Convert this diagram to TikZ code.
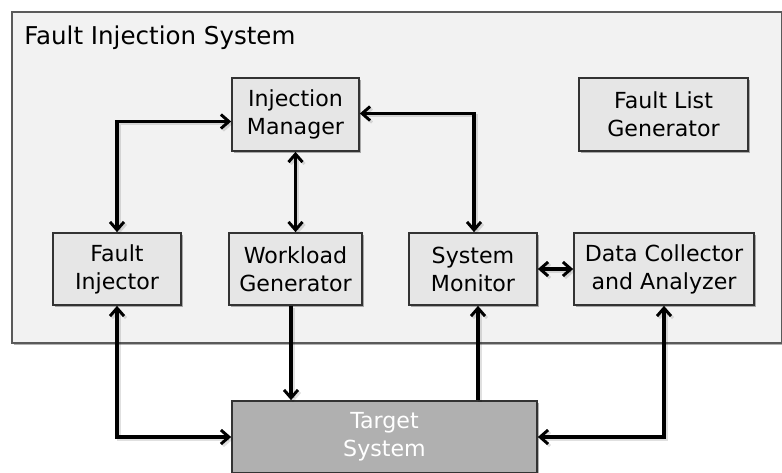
\documentclass[tikz,border=0pt]{standalone}
\usepackage{fontspec}
\setmainfont{DejaVu Sans}
\usetikzlibrary{arrows.meta,calc,shadows}
\definecolor{outerfill}{HTML}{F2F2F2}
\definecolor{outerline}{HTML}{5A5A5A}
\definecolor{boxfill}{HTML}{E6E6E6}
\definecolor{boxline}{HTML}{333333}
\definecolor{targetfill}{HTML}{B0B0B0}
\begin{document}
\begin{tikzpicture}[x=0.75pt,y=-0.75pt,
  shade/.style={drop shadow={shadow xshift=1.8pt,shadow yshift=-1.8pt,opacity=.3,fill=black}},
  blockbox/.style={draw=boxline,line width=1.3pt,fill=boxfill,shade,align=center,
    inner sep=0pt,font=\fontsize{16.6}{21}\selectfont,text=black},
  conn/.style={line width=2.4pt,black,
    preaction={draw,line width=2.4pt,black,opacity=.12,transform canvas={shift={(1.5pt,-1.5pt)}}}},
  tip/.style={arrows={-Straight Barb[length=6pt,width=10.5pt,line width=2.2pt]}},
  both/.style={arrows={Straight Barb[length=6pt,width=10.5pt,line width=2.2pt]-Straight Barb[length=6pt,width=10.5pt,line width=2.2pt]}}]
\useasboundingbox (0,0) rectangle (782,472);
% outer system box
\node[draw=outerline,line width=1.3pt,fill=outerfill,shade,minimum width=770*0.75pt,minimum height=331*0.75pt,anchor=north west,inner sep=0pt] (sys) at (11,11) {};
\node[anchor=base west,inner sep=0pt,font=\fontsize{18.4}{22}\selectfont] (title) at (24,44) {Fault Injection System};
% blocks
\node[blockbox,minimum width=127*0.75pt,minimum height=73*0.75pt] (IM) at (295.5,114.5) {Injection\\Manager};
\node[blockbox,minimum width=169*0.75pt,minimum height=73*0.75pt] (FLG) at (663.5,114.5) {Fault List\\Generator};
\node[blockbox,minimum width=128*0.75pt,minimum height=72*0.75pt] (FI) at (117,269) {Fault\\Injector};
\node[blockbox,minimum width=133*0.75pt,minimum height=72*0.75pt] (WG) at (295.5,269) {Workload\\Generator};
\node[blockbox,minimum width=128*0.75pt,minimum height=72*0.75pt] (SM) at (473,269) {System\\Monitor};
\node[blockbox,minimum width=180*0.75pt,minimum height=72*0.75pt] (DC) at (664,269) {Data Collector\\and Analyzer};
\node[blockbox,fill=targetfill,text=white,minimum width=305*0.75pt,minimum height=72*0.75pt] (T) at (384.5,437) {Target\\System};
% connector anchor points
\coordinate (imw) at ($(IM.west)+(0,7)$);
\coordinate (ime) at ($(IM.east)+(0,-1)$);
\coordinate (wgs) at ($(WG.south)+(-4.5,0)$);
\coordinate (smn) at ($(SM.north)+(1,0)$);
\coordinate (sms) at ($(SM.south)+(5,0)$);
% connectors
\draw[conn,both] (FI.north) |- (imw);
\draw[conn,both] (smn) |- (ime);
\draw[conn,both] (IM.south) -- (WG.north);
\draw[conn,both] (SM.east) -- (DC.west);
\draw[conn,both] (FI.south) |- (T.west);
\draw[conn,tip] (wgs) -- (wgs |- T.north);
\draw[conn,tip] (sms |- T.north) -- (sms);
\draw[conn,both] (DC.south) |- (T.east);
\end{tikzpicture}
\end{document}
